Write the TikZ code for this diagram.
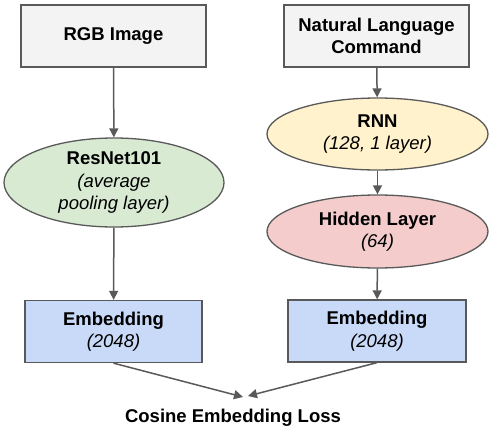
\documentclass[tikz,border=0pt]{standalone}
\usepackage{fontspec}
\setmainfont{Liberation Sans}
\usetikzlibrary{shapes.geometric,arrows.meta}
\definecolor{linegray}{HTML}{595959}
\definecolor{boxgray}{HTML}{F3F3F3}
\definecolor{resgreen}{HTML}{D9EAD3}
\definecolor{rnnyellow}{HTML}{FFF2CC}
\definecolor{hidpink}{HTML}{F4CCCC}
\definecolor{embblue}{HTML}{C9DAF8}
\tikzset{mybox/.style={draw=linegray,line width=1.3pt,rectangle,minimum width=185pt,minimum height=62pt,inner sep=0,align=center},
  myellipse/.style={draw=linegray,line width=1.3pt,ellipse,inner sep=0,align=center},
  myarrow/.style={linegray,line width=1.5pt,-{Triangle[length=9pt,width=9pt]}}}

\begin{document}
\begin{tikzpicture}[x=1pt,y=-1pt,font=\fontsize{18.5}{22.5}\selectfont]
 \useasboundingbox (0,0) rectangle (491,429);
 \node[mybox,fill=boxgray] (rgb) at (113.5,36) {\textbf{RGB Image}};
 \node[mybox,fill=boxgray] (cmd) at (376.5,36) {\textbf{Natural Language}\\\textbf{Command}};
 \node[myellipse,fill=resgreen,minimum width=220pt,minimum height=89pt] (resnet) at (114,182.5) {\textbf{ResNet101}\\\textit{(average}\\\textit{pooling layer)}};
 \node[myellipse,fill=rnnyellow,minimum width=221pt,minimum height=72pt] (rnn) at (377.5,134) {\textbf{RNN}\\\textit{(128, 1 layer)}};
 \node[myellipse,fill=hidpink,minimum width=221pt,minimum height=73pt] (hidden) at (377.5,231.5) {\textbf{Hidden Layer}\\\textit{(64)}};
 \node[mybox,fill=embblue,minimum width=177pt] (embL) at (113.5,331.5) {\textbf{Embedding}\\\textit{(2048)}};
 \node[mybox,fill=embblue,minimum width=178pt] (embR) at (377,331) {\textbf{Embedding}\\\textit{(2048)}};
 \node (loss) at (233,418) {\textbf{Cosine Embedding Loss}};
 \coordinate (tipL) at (243,397);
 \coordinate (tipR) at (248,396);
 \draw[myarrow] (rgb) -- (resnet);
 \draw[myarrow] (resnet) -- (embL);
 \draw[myarrow] (cmd) -- (rnn);
 \draw[myarrow] (rnn) -- (hidden);
 \draw[myarrow] (hidden) -- (embR);
 \draw[myarrow] (embL.south) -- (tipL);
 \draw[myarrow] (embR.south) -- (tipR);
\end{tikzpicture}
\end{document}
